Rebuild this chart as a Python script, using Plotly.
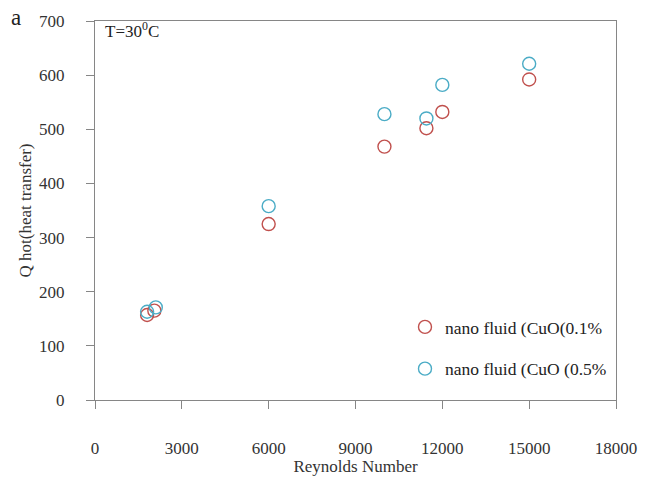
import plotly.graph_objects as go

# Reynolds number and heat transfer readings at T = 30 °C
reynolds_01 = [1800, 2050, 6000, 10000, 11450, 12000, 15000]
q_hot_01 = [157, 165, 325, 468, 502, 532, 592]

reynolds_05 = [1800, 2100, 6000, 10000, 11450, 12000, 15000]
q_hot_05 = [163, 171, 358, 528, 520, 582, 621]

series_names = ["nano fluid (CuO(0.1%", "nano fluid (CuO (0.5%"]
x_ticks = [0, 3000, 6000, 9000, 12000, 15000, 18000]
y_ticks = [0, 100, 200, 300, 400, 500, 600, 700]

SERIF = "Liberation Serif, Times New Roman, serif"
AXIS_GRAY = "#868686"
TEXT = "#333333"

fig = go.Figure()
for xs, ys, name, color, grp in [
    (reynolds_01, q_hot_01, series_names[0], "#c0504d", "a"),
    (reynolds_05, q_hot_05, series_names[1], "#4bacc6", "b"),
]:
    fig.add_trace(go.Scatter(
        x=xs, y=ys, mode="markers", name=name, legendgroup=grp,
        marker=dict(symbol="circle-open", size=13, color=color,
                    line=dict(width=1.4, color=color)),
    ))

axis_common = dict(
    showline=True, linecolor=AXIS_GRAY, linewidth=1.2, mirror=True,
    ticks="outside", ticklen=8, tickcolor=AXIS_GRAY, tickwidth=1,
    showgrid=False, zeroline=False,
    tickfont=dict(family=SERIF, size=17, color=TEXT),
)

fig.update_layout(
    width=649, height=483,
    margin=dict(l=95, r=26, t=16, b=83),
    paper_bgcolor="white", plot_bgcolor="white",
    xaxis=dict(range=[0, 18000], tickvals=x_ticks,
               ticktext=[str(v) for v in x_ticks],
               ticklabelstandoff=24,
               title=dict(text="Reynolds Number", standoff=1,
                          font=dict(family=SERIF, size=17, color=TEXT)),
               **axis_common),
    yaxis=dict(range=[0, 700], tickvals=y_ticks,
               ticktext=[str(v) for v in y_ticks],
               ticklabelstandoff=18,
               title=dict(text="Q hot(heat transfer)", standoff=3,
                          font=dict(family=SERIF, size=17, color=TEXT)),
               **axis_common),
    legend=dict(x=0.595, y=0.24, xanchor="left", yanchor="top",
                bgcolor="rgba(0,0,0,0)", tracegroupgap=16,
                font=dict(family=SERIF, size=17.5, color="#222222"),
                itemwidth=30),
    showlegend=True,
)

fig.add_annotation(text="T=30<sup>0</sup>C", xref="paper", yref="paper",
                   x=0.015, y=0.977, xanchor="left", yanchor="middle",
                   showarrow=False,
                   font=dict(family=SERIF, size=17, color="#222222"))
fig.add_annotation(text="a", xref="paper", yref="paper",
                   x=-0.151, y=1.01, xanchor="center", yanchor="middle",
                   showarrow=False,
                   font=dict(family=SERIF, size=23, color="#222222"))

fig.write_html("out.html")
